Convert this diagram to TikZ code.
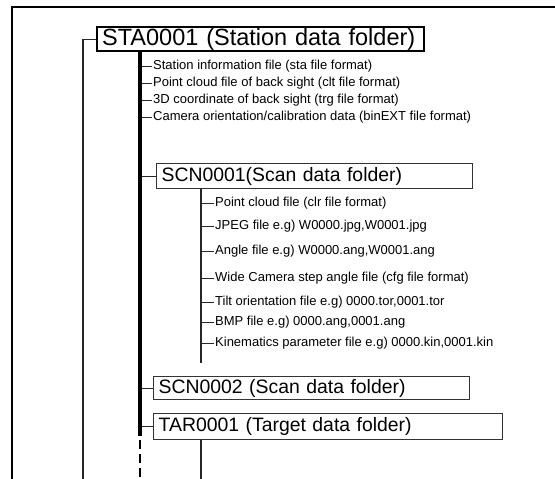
\documentclass[tikz,border=0pt]{standalone}
\usepackage{fontspec}
\setmainfont{Liberation Sans}
\begin{document}
\begin{tikzpicture}[x=1pt,y=-1pt,
  frameline/.style={line width=2pt},
  bigbox/.style={draw, line width=2.4pt, anchor=north west, inner xsep=5pt, inner ysep=0pt,
    align=left, font=\fontsize{23.5}{24}\selectfont},
  subbox/.style={draw=black!80, line width=1.3pt, anchor=north west, inner xsep=5pt, inner ysep=0pt,
    align=left, font=\fontsize{19.4}{20}\selectfont},
  item/.style={anchor=west, inner xsep=1pt, inner ysep=1pt, font=\fontsize{13}{14}\selectfont},
  thinline/.style={line width=1.1pt, draw=black!85},
  spine/.style={line width=3.2pt, draw=black},
  tick/.style={line width=1pt, draw=black!85},
  dashline/.style={line width=1.4pt, dash pattern=on 9pt off 5pt}]
\useasboundingbox (0,0) rectangle (555,479);
% frame
\draw[frameline] (12,490) -- (12,7) -- (570,7);
% boxes
\node[bigbox, minimum height=24pt, text width=317pt] (sta) at (96,26) {STA0001 (Station data folder)};
\node[subbox, minimum height=25pt, text width=306pt] (scn1) at (156,163) {SCN0001(Scan data folder)};
\node[subbox, minimum height=23pt, text width=306pt] (scn2) at (153,376) {SCN0002 (Scan data folder)};
\node[subbox, minimum height=26pt, text width=339pt] (tar) at (153,413) {TAR0001 (Target data folder)};
% coordinates
\coordinate (rootbot) at (83,490);
\coordinate (sp) at (140,0);
\coordinate (spend) at (140,436);
\coordinate (dashend) at (140,490);
\coordinate (cv) at (201,0);
\coordinate (cvend) at (201,363);
\coordinate (tarend) at (201,490);
% root line
\draw[thinline] (rootbot) |- (sta.west);
% station items
\node[item] (s1) at (152,66) {Station information file (sta file format)};
\node[item] (s2) at (152,83) {Point cloud file of back sight (clt file format)};
\node[item] (s3) at (152,100) {3D coordinate of back sight (trg file format)};
\node[item] (s4) at (152,117) {Camera orientation/calibration data (binEXT file format)};
\foreach \n in {s1,s2,s3,s4} \draw[tick] (\n.west -| sp) -- (\n.west);
% scan boxes connectors
\draw[tick] (sp |- scn1.west) -- (scn1.west);
\draw[tick] (sp |- scn2.west) -- (scn2.west);
\draw[tick] (sp |- tar.west) -- (tar.west);
% spine
\draw[spine] (sp |- sta.south) -- (spend);
\draw[dashline] (spend) ++(0,4) -- (dashend);
% scan items
\draw[thinline] (cv |- scn1.south) -- (cvend);
\node[item] (c1) at (214,203) {Point cloud file (clr file format)};
\node[item] (c2) at (214,226) {JPEG file e.g) W0000.jpg,W0001.jpg};
\node[item] (c3) at (214,251) {Angle file e.g) W0000.ang,W0001.ang};
\node[item] (c4) at (214,278) {Wide Camera step angle file (cfg file format)};
\node[item] (c5) at (214,302) {Tilt orientation file e.g) 0000.tor,0001.tor};
\node[item] (c6) at (214,322) {BMP file e.g) 0000.ang,0001.ang};
\node[item] (c7) at (214,343) {Kinematics parameter file e.g) 0000.kin,0001.kin};
\foreach \n in {c1,c2,c3,c4,c5,c6,c7} \draw[tick] (\n.west -| cv) -- (\n.west);
% target line
\draw[thinline] (cv |- tar.south) -- (tarend);
\end{tikzpicture}
\end{document}
